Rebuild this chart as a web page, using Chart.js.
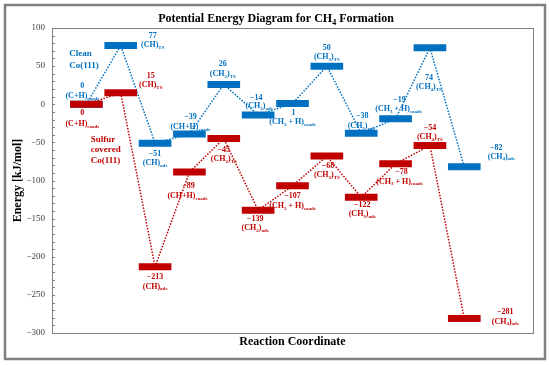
<!DOCTYPE html>
<html>
<head>
<meta charset="utf-8">
<script src="https://cdn.jsdelivr.net/npm/chart.js@4"></script>
<style>
  body { margin: 0; background: #fff; }
  canvas { display: block; }
</style>
</head>
<body>
<canvas id="chart-energy" width="550" height="365"></canvas>
<script>
// reaction steps (x positions on the coordinate axis)
const steps = [0, 1, 2, 3, 4, 5, 6, 7, 8, 9, 10, 11];
const cleanEnergy = [0, 77, -51, -39, 26, -14, 1, 50, -38, -19, 74, -82];
const sulfurEnergy = [0, 15, -213, -89, -45, -139, -107, -68, -122, -78, -54, -281];
const species = [
  "(C+H)_{coads}", "(CH)_{TS}", "(CH)_{ads}", "(CH+H)_{coads}",
  "(CH_{2})_{TS}", "(CH_{2})_{ads}", "(CH_{2} + H)_{coads}", "(CH_{3})_{TS}",
  "(CH_{3})_{ads}", "(CH_{3} + H)_{coads}", "(CH_{4})_{TS}", "(CH_{4})_{ads}",
];
const yTicks = [100, 50, 0, -50, -100, -150, -200, -250, -300];

const COLORS = {
  blue: "#0070C0",
  red: "#C00000",
  frame: "#808080",
  tick: "#404040",
};
const SERIF = '"Liberation Serif", "Times New Roman", serif';

// label placement, px from the bar centre: [dxValue, dyValue, dxFormula, dyFormula]
const cleanLabelPos = [
  [-4, -18, -4, -8], [32, -9.5, 32, -0.5], [0, 11, 0, 20], [1, -17, 1, -7],
  [-1, -20, -1, -10], [-2, -17, 1, -9], [1, 9, 0, 18.5], [0, -18, 0, -9],
  [1, -17, 0, -7], [4, -18.5, 3, -9.5], [-1, 30, -1, 39], [32, -19, 37, -10],
];
const sulfurLabelPos = [
  [-4, 9, -4, 20], [30, -17, 30, -8], [0, 10, 0, 20], [-1, 14, -2, 24],
  [0, 11, 0, 20.5], [-3, 9, -3, 18], [0, 10, 0, 20], [1, 10, 0, 19],
  [1, 8, 1, 17], [6, 8, 4, 18], [0, -17, 0, -8], [41, -6.5, 41, 3],
];

function fmt(v) {
  return v < 0 ? "\u2212" + Math.abs(v) : String(v);
}

// level bars: short horizontal segments, broken by nulls
function levelPoints(values) {
  const pts = [];
  values.forEach((v, i) => {
    pts.push({ x: steps[i] - 0.475, y: v });
    pts.push({ x: steps[i] + 0.475, y: v });
    pts.push({ x: steps[i] + 0.5, y: null });
  });
  return pts;
}

function pathPoints(values) {
  return values.map((v, i) => ({ x: steps[i], y: v }));
}

// text with _{subscript} runs
function richText(ctx, str, cx, cy, size, color, align) {
  const parts = [];
  const re = /_\{([^}]*)\}/g;
  let last = 0, m;
  while ((m = re.exec(str))) {
    if (m.index > last) parts.push({ t: str.slice(last, m.index), sub: false });
    parts.push({ t: m[1], sub: true });
    last = re.lastIndex;
  }
  if (last < str.length) parts.push({ t: str.slice(last), sub: false });

  const mainFont = `bold ${size}px ${SERIF}`;
  const subFont = `bold ${Math.round(size * 0.65)}px ${SERIF}`;
  let total = 0;
  parts.forEach((p) => {
    ctx.font = p.sub ? subFont : mainFont;
    p.w = ctx.measureText(p.t).width;
    total += p.w;
  });
  let x = align === "left" ? cx : cx - total / 2;
  ctx.fillStyle = color;
  ctx.textAlign = "left";
  ctx.textBaseline = "middle";
  parts.forEach((p) => {
    ctx.font = p.sub ? subFont : mainFont;
    ctx.fillText(p.t, x, p.sub ? cy + size * 0.3 : cy);
    x += p.w;
  });
}

const annotationPlugin = {
  id: "energyLabels",
  afterDatasetsDraw(chart) {
    const { ctx, scales } = chart;
    const sx = scales.x, sy = scales.y;
    ctx.save();

    const series = [
      [cleanEnergy, cleanLabelPos, COLORS.blue],
      [sulfurEnergy, sulfurLabelPos, COLORS.red],
    ];
    series.forEach(([vals, pos, color]) => {
      vals.forEach((v, i) => {
        const px = sx.getPixelForValue(steps[i]);
        const py = sy.getPixelForValue(v);
        const p = pos[i];
        richText(ctx, fmt(v), px + p[0], py + p[1], 8, color);
        richText(ctx, species[i], px + p[2], py + p[3], 8, color);
      });
    });

    // surface names
    const cleanX = sx.getPixelForValue(-0.5);
    richText(ctx, "Clean", cleanX, sy.getPixelForValue(66), 9, COLORS.blue, "left");
    richText(ctx, "Co(111)", cleanX, sy.getPixelForValue(50), 9, COLORS.blue, "left");
    const sulfX = sx.getPixelForValue(0.13);
    richText(ctx, "Sulfur", sulfX, sy.getPixelForValue(-47), 9, COLORS.red, "left");
    richText(ctx, "covered", sulfX, sy.getPixelForValue(-60), 9, COLORS.red, "left");
    richText(ctx, "Co(111)", sulfX, sy.getPixelForValue(-74.5), 9, COLORS.red, "left");
    ctx.restore();
  },
  afterDraw(chart) {
    const { ctx, chartArea: a, scales } = chart;
    ctx.save();
    // plot box
    ctx.strokeStyle = COLORS.frame;
    ctx.lineWidth = 1;
    ctx.strokeRect(a.left + 0.5, a.top + 0.5, a.right - a.left, a.bottom - a.top);
    // minor ticks on the energy axis
    for (let v = -300; v <= 100; v += 10) {
      const y = Math.round(scales.y.getPixelForValue(v)) + 0.5;
      ctx.beginPath();
      ctx.moveTo(a.left, y);
      ctx.lineTo(a.left + 3, y);
      ctx.stroke();
    }
    // outer frame
    ctx.lineWidth = 2.5;
    ctx.strokeRect(5, 5, 540, 354);

    // titles
    richText(ctx, "Potential Energy Diagram for CH_{4} Formation", 276, 19, 12, "#000");
    richText(ctx, "Reaction Coordinate", (a.left + a.right) / 2, 342, 12, "#000");
    ctx.translate(18, (a.top + a.bottom) / 2);
    ctx.rotate(-Math.PI / 2);
    richText(ctx, "Energy [kJ/mol]", 0, 0, 12, "#000");
    ctx.restore();
  },
};

function initialEnergyChart(canvasId = "chart-energy") {
  const canvas = document.getElementById(canvasId);
  const ctx = canvas.getContext("2d");

  return new Chart(ctx, {
    type: "line",
    data: {
      datasets: [
        {
          label: "Clean path",
          data: pathPoints(cleanEnergy),
          borderColor: COLORS.blue,
          borderWidth: 1.5,
          borderDash: [1.5, 1.5],
          pointRadius: 0,
          order: 4,
        },
        {
          label: "Sulfur path",
          data: pathPoints(sulfurEnergy),
          borderColor: COLORS.red,
          borderWidth: 1.5,
          borderDash: [1.5, 1.5],
          pointRadius: 0,
          order: 3,
        },
        {
          label: "Clean Co(111)",
          data: levelPoints(cleanEnergy),
          borderColor: COLORS.blue,
          borderWidth: 7,
          borderCapStyle: "butt",
          pointRadius: 0,
          spanGaps: false,
          order: 2,
        },
        {
          label: "Sulfur covered Co(111)",
          data: levelPoints(sulfurEnergy),
          borderColor: COLORS.red,
          borderWidth: 7,
          borderCapStyle: "butt",
          pointRadius: 0,
          spanGaps: false,
          order: 1,
        },
      ],
    },
    plugins: [annotationPlugin],
    options: {
      responsive: false,
      animation: false,
      layout: { padding: { left: 0, right: 17, top: 28, bottom: 32 } },
      scales: {
        x: { type: "linear", min: -1, max: 13, display: false },
        y: {
          min: -300,
          max: 100,
          afterBuildTicks: (s) => { s.ticks = yTicks.map((v) => ({ value: v })); },
          afterFit: (s) => { s.width = 52; },
          ticks: {
            color: COLORS.tick,
            font: { family: SERIF, size: 9 },
            padding: 7,
            callback: (v) => fmt(v),
          },
          grid: { display: false, drawTicks: false },
          border: { display: false },
        },
      },
      plugins: {
        legend: { display: false },
        tooltip: { enabled: false },
      },
    },
  });
}

initialEnergyChart();
</script>
</body>
</html>
